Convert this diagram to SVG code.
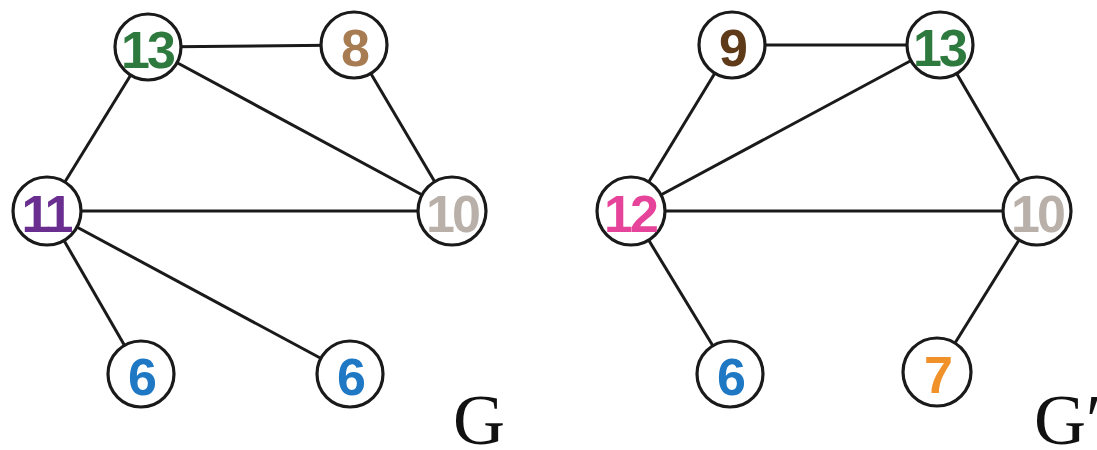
<svg xmlns="http://www.w3.org/2000/svg" width="1097" height="450" viewBox="0 0 1097 450">
  <style>
    .edge { stroke: #1a1a1a; stroke-width: 3; fill: none; }
    .node circle { fill: #ffffff; stroke: #1a1a1a; stroke-width: 3.2; }
    .node text { font-family: "Liberation Sans", Arial, sans-serif; font-weight: bold; font-size: 52px; letter-spacing: -3px; text-anchor: middle; dominant-baseline: central; }
    .title { font-family: "Liberation Serif", "Times New Roman", serif; font-size: 72px; fill: #111111; }
  </style>
  <rect width="1097" height="450" fill="#ffffff"/>

  <!-- connectors -->
  <g id="edges">
    <!-- graph G -->
    <line class="edge" x1="148" y1="47" x2="354" y2="45"/>
    <line class="edge" x1="148" y1="47" x2="47" y2="211"/>
    <line class="edge" x1="148" y1="47" x2="452" y2="211"/>
    <line class="edge" x1="354" y1="45" x2="452" y2="211"/>
    <line class="edge" x1="47" y1="211" x2="452" y2="211"/>
    <line class="edge" x1="47" y1="211" x2="141" y2="374"/>
    <line class="edge" x1="47" y1="211" x2="350" y2="374"/>
    <!-- graph G' -->
    <line class="edge" x1="732" y1="45" x2="940" y2="45"/>
    <line class="edge" x1="732" y1="45" x2="631" y2="211"/>
    <line class="edge" x1="940" y1="45" x2="631" y2="211"/>
    <line class="edge" x1="940" y1="45" x2="1037" y2="211"/>
    <line class="edge" x1="631" y1="211" x2="1037" y2="211"/>
    <line class="edge" x1="631" y1="211" x2="730" y2="374"/>
    <line class="edge" x1="1037" y1="211" x2="937" y2="372"/>
  </g>

  <!-- graph G nodes -->
  <g id="g-n13" class="node"><circle cx="148" cy="47" r="33"/><text x="147" y="50" fill="#2e7a3e">13</text></g>
  <g id="g-n8" class="node"><circle cx="354" cy="45" r="33"/><text x="354" y="48" fill="#a87c52">8</text></g>
  <g id="g-n11" class="node"><circle cx="47" cy="211" r="34"/><text x="46" y="214" fill="#6a2e90">11</text></g>
  <g id="g-n10" class="node"><circle cx="452" cy="211" r="34"/><text x="452" y="214" fill="#b9b1a9">10</text></g>
  <g id="g-n6a" class="node"><circle cx="141" cy="374" r="33"/><text x="141" y="377" fill="#1e78c4">6</text></g>
  <g id="g-n6b" class="node"><circle cx="350" cy="374" r="33"/><text x="350" y="377" fill="#1e78c4">6</text></g>

  <!-- graph G' nodes -->
  <g id="gp-n9" class="node"><circle cx="732" cy="45" r="33"/><text x="732" y="48" fill="#5e3a18">9</text></g>
  <g id="gp-n13" class="node"><circle cx="940" cy="45" r="33"/><text x="939" y="48" fill="#2e7a3e">13</text></g>
  <g id="gp-n12" class="node"><circle cx="631" cy="211" r="34"/><text x="630" y="214" fill="#e6449a">12</text></g>
  <g id="gp-n10" class="node"><circle cx="1037" cy="211" r="34"/><text x="1037" y="214" fill="#b9b1a9">10</text></g>
  <g id="gp-n6" class="node"><circle cx="730" cy="374" r="33"/><text x="730" y="377" fill="#1e78c4">6</text></g>
  <g id="gp-n7" class="node"><circle cx="937" cy="372" r="34"/><text x="937" y="375" fill="#f0912a">7</text></g>

  <!-- graph names -->
  <text class="title" x="453" y="444">G</text>
  <text class="title" x="1034" y="444">G′</text>
</svg>
